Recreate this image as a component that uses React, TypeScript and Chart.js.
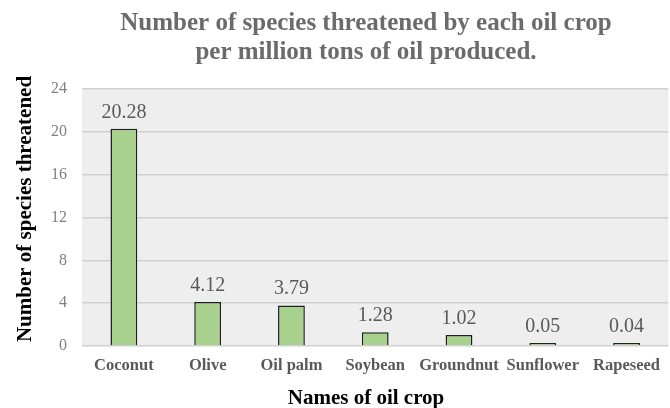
import React, { useEffect, useRef } from "react";
import { Chart, registerables } from "chart.js";

Chart.register(...registerables);

const crops = ["Coconut", "Olive", "Oil palm", "Soybean", "Groundnut", "Sunflower", "Rapeseed"];
const speciesPerMillionTons = [20.28, 4.12, 3.79, 1.28, 1.02, 0.05, 0.04];
const valueLabels = ["20.28", "4.12", "3.79", "1.28", "1.02", "0.05", "0.04"];
const titleLines = ["Number of species threatened by each oil crop", "per million tons of oil produced."];
const xAxisTitle = "Names of oil crop";
const yAxisTitle = "Number of species threatened";

const SERIF = "'Liberation Serif', 'Times New Roman', serif";

// Grey panel behind the plot area
const plotBackground = {
  id: "plotBackground",
  beforeDraw(chart: any) {
    const { ctx, chartArea } = chart;
    ctx.save();
    ctx.fillStyle = "#eeeeee";
    ctx.fillRect(chartArea.left, chartArea.top, chartArea.right - chartArea.left, chartArea.bottom - chartArea.top);
    ctx.restore();
  },
};

// Value labels above each bar
const barValueLabels = {
  id: "barValueLabels",
  afterDatasetsDraw(chart: any) {
    const { ctx } = chart;
    const meta = chart.getDatasetMeta(0);
    ctx.save();
    ctx.font = `20px ${SERIF}`;
    ctx.fillStyle = "#595959";
    ctx.textAlign = "center";
    ctx.textBaseline = "alphabetic";
    meta.data.forEach((bar: any, i: number) => {
      ctx.fillText(valueLabels[i], bar.x, bar.y - 11);
    });
    ctx.restore();
  },
};

// Chart title and both axis titles
const titles = {
  id: "titles",
  afterDraw(chart: any) {
    const { ctx } = chart;
    ctx.save();
    ctx.textAlign = "center";
    ctx.textBaseline = "alphabetic";
    ctx.fillStyle = "#6b6b6b";
    ctx.font = `bold 25px ${SERIF}`;
    ctx.fillText(titleLines[0], 366, 30);
    ctx.fillText(titleLines[1], 366, 59);

    ctx.fillStyle = "#000000";
    ctx.font = `bold 21px ${SERIF}`;
    ctx.fillText(xAxisTitle, 366, 404);

    ctx.translate(31, 209);
    ctx.rotate(-Math.PI / 2);
    ctx.fillText(yAxisTitle, 0, 0);
    ctx.restore();
  },
};

export default function App() {
  const canvasRef = useRef<HTMLCanvasElement | null>(null);

  useEffect(() => {
    if (!canvasRef.current) return;
    const chart = new Chart(canvasRef.current, {
      type: "bar",
      data: {
        labels: crops,
        datasets: [
          {
            data: speciesPerMillionTons,
            backgroundColor: "#a9d18e",
            borderColor: "#1e1e1e",
            borderWidth: 1.5,
            barPercentage: 0.32,
            categoryPercentage: 1,
            minBarLength: 3,
          },
        ],
      },
      options: {
        animation: false,
        responsive: false,
        devicePixelRatio: 1,
        layout: { padding: { top: 89, left: 0, right: 0, bottom: 0 } },
        plugins: {
          legend: { display: false },
          title: { display: false },
          tooltip: { enabled: false },
        },
        scales: {
          x: {
            offset: true,
            grid: { display: false, drawTicks: false },
            border: { display: false },
            ticks: {
              padding: 10,
              color: "#595959",
              font: { family: SERIF, size: 16.5, weight: "bold" },
              maxRotation: 0,
              autoSkip: false,
            },
            afterFit(scale: any) {
              scale.height = 62;
            },
          },
          y: {
            min: 0,
            max: 24,
            grid: { color: "#d0d0d0", lineWidth: 1.5, drawTicks: false },
            border: { display: false },
            ticks: {
              stepSize: 4,
              padding: 15,
              color: "#7f7f7f",
              font: { family: SERIF, size: 16 },
            },
            afterFit(scale: any) {
              scale.width = 82;
            },
          },
        },
      },
      plugins: [plotBackground, barValueLabels, titles],
    });
    return () => chart.destroy();
  }, []);

  return (
    <div style={{ position: "fixed", left: 0, top: 0, width: 670, height: 408, background: "#ffffff" }}>
      <canvas ref={canvasRef} width={670} height={408} style={{ display: "block" }} />
    </div>
  );
}
